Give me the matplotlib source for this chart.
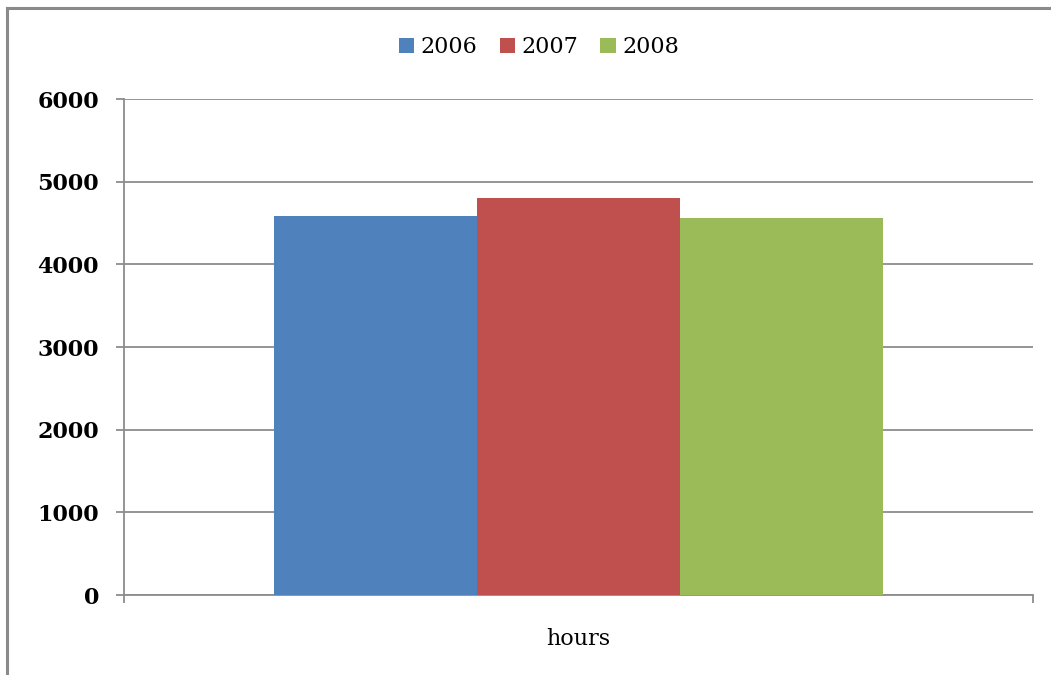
import matplotlib
matplotlib.use("Agg")
import matplotlib.pyplot as plt
from matplotlib.lines import Line2D

# Data
category = ["hours"]
years = ["2006", "2007", "2008"]
values = [4590, 4800, 4560]
colors = ["#4F81BD", "#C0504D", "#9BBB59"]
y_ticks = [0, 1000, 2000, 3000, 4000, 5000, 6000]

W, H = 1051, 675
fig = plt.figure(figsize=(W / 100, H / 100), dpi=100)
ax = fig.add_axes([124 / W, 1 - 595 / H, (1033 - 124) / W, (595 - 99) / H])

grid_col = "#8c8c8c"
serif = "DejaVu Serif"

bar_w = 0.2233
offsets = [-bar_w, 0.0, bar_w]
for yr, val, col, off in zip(years, values, colors, offsets):
    ax.bar(off, val, width=bar_w, color=col, label=yr, zorder=3)

ax.set_xlim(-0.5, 0.5)
ax.set_ylim(0, 6000)
ax.set_yticks(y_ticks)
ax.set_yticklabels([str(v) for v in y_ticks], fontfamily=serif,
                   fontweight="bold", fontsize=16)
ax.yaxis.grid(True, color=grid_col, linewidth=1.3, zorder=0)
ax.set_axisbelow(True)

ax.set_xticks([0])
ax.set_xticklabels(category, fontfamily=serif, fontsize=16)
ax.set_xticks([-0.5, 0.5], minor=True)
ax.tick_params(axis="x", which="major", length=0, pad=24)
ax.tick_params(axis="x", which="minor", length=6, width=1.3, color=grid_col,
               direction="out")
ax.tick_params(axis="y", length=6, width=1.3, color=grid_col, pad=12,
               direction="out")

for side in ("top", "right"):
    ax.spines[side].set_visible(False)
for side in ("left", "bottom"):
    ax.spines[side].set_color(grid_col)
    ax.spines[side].set_linewidth(1.3)

leg = fig.legend(loc="center", bbox_to_anchor=(539 / W, 1 - 47 / H),
                 ncol=3, frameon=False, prop={"family": serif, "size": 16},
                 handlelength=0.68, handleheight=0.68, handletextpad=0.3,
                 columnspacing=1.0, borderpad=0)

# Outer chart frame (left and top edges)
border_col = "#8a8a8a"
fig.add_artist(Line2D([7 / W, 7 / W], [0, 1 - 7.5 / H], color=border_col,
                      linewidth=2.2, transform=fig.transFigure))
fig.add_artist(Line2D([7 / W, 1], [1 - 7.5 / H, 1 - 7.5 / H], color=border_col,
                      linewidth=2.2, transform=fig.transFigure))

fig.savefig("out.png", dpi=100)
